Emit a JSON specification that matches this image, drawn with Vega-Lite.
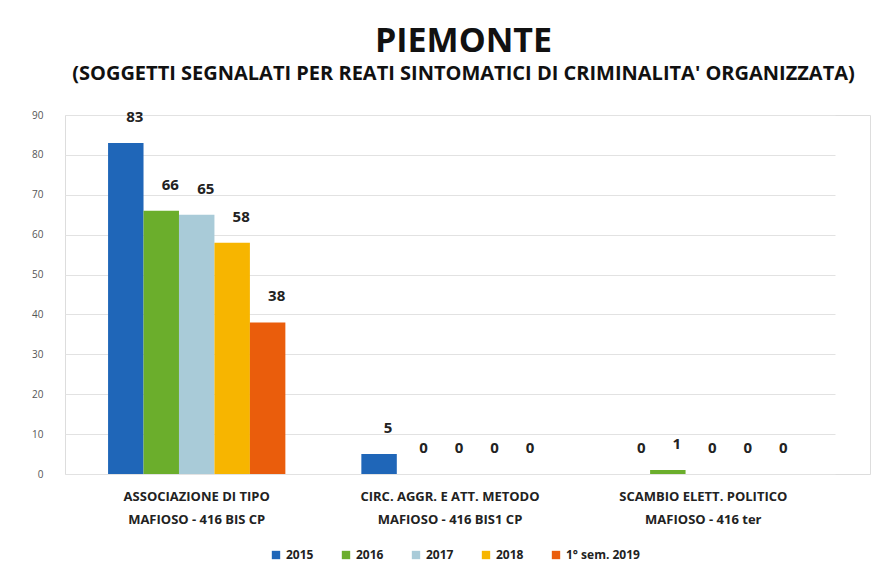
{
  "$schema": "https://vega.github.io/schema/vega-lite/v6.json",
  "autosize": {"type": "none"},
  "width": 805,
  "height": 359,
  "padding": {"left": 65, "right": 21, "top": 115, "bottom": 102},
  "background": "white",
  "title": {
    "text": "PIEMONTE",
    "subtitle": "(SOGGETTI SEGNALATI PER REATI SINTOMATICI DI CRIMINALITA' ORGANIZZATA)",
    "font": "Open Sans",
    "fontSize": 34,
    "fontWeight": "bold",
    "color": "#111111",
    "subtitleFont": "Open Sans",
    "subtitleFontSize": 20,
    "subtitleFontWeight": "bold",
    "subtitleColor": "#111111",
    "subtitlePadding": 5,
    "anchor": "middle",
    "dx": -4,
    "offset": 26
  },
  "data": {
    "values": [
      {"categoria": "ASSOCIAZIONE DI TIPO\nMAFIOSO - 416 BIS CP", "anno": "2015", "valore": 83},
      {"categoria": "ASSOCIAZIONE DI TIPO\nMAFIOSO - 416 BIS CP", "anno": "2016", "valore": 66},
      {"categoria": "ASSOCIAZIONE DI TIPO\nMAFIOSO - 416 BIS CP", "anno": "2017", "valore": 65},
      {"categoria": "ASSOCIAZIONE DI TIPO\nMAFIOSO - 416 BIS CP", "anno": "2018", "valore": 58},
      {"categoria": "ASSOCIAZIONE DI TIPO\nMAFIOSO - 416 BIS CP", "anno": "1° sem. 2019", "valore": 38},
      {"categoria": "CIRC. AGGR. E ATT. METODO\nMAFIOSO - 416 BIS1 CP", "anno": "2015", "valore": 5},
      {"categoria": "CIRC. AGGR. E ATT. METODO\nMAFIOSO - 416 BIS1 CP", "anno": "2016", "valore": 0},
      {"categoria": "CIRC. AGGR. E ATT. METODO\nMAFIOSO - 416 BIS1 CP", "anno": "2017", "valore": 0},
      {"categoria": "CIRC. AGGR. E ATT. METODO\nMAFIOSO - 416 BIS1 CP", "anno": "2018", "valore": 0},
      {"categoria": "CIRC. AGGR. E ATT. METODO\nMAFIOSO - 416 BIS1 CP", "anno": "1° sem. 2019", "valore": 0},
      {"categoria": "SCAMBIO ELETT. POLITICO\nMAFIOSO - 416 ter", "anno": "2015", "valore": 0},
      {"categoria": "SCAMBIO ELETT. POLITICO\nMAFIOSO - 416 ter", "anno": "2016", "valore": 1},
      {"categoria": "SCAMBIO ELETT. POLITICO\nMAFIOSO - 416 ter", "anno": "2017", "valore": 0},
      {"categoria": "SCAMBIO ELETT. POLITICO\nMAFIOSO - 416 ter", "anno": "2018", "valore": 0},
      {"categoria": "SCAMBIO ELETT. POLITICO\nMAFIOSO - 416 ter", "anno": "1° sem. 2019", "valore": 0}
    ]
  },
  "encoding": {
    "x": {
      "field": "categoria",
      "type": "nominal",
      "sort": null,
      "scale": {"paddingInner": 0.3, "paddingOuter": 0.17, "range": [0, 770]},
      "axis": {
        "title": null,
        "labelAngle": 0,
        "labelExpr": "split(datum.label, '\\n')",
        "labelFont": "Open Sans",
        "labelFontSize": 13,
        "labelFontWeight": "bold",
        "labelColor": "#222222",
        "labelLineHeight": 23,
        "labelPadding": 16,
        "ticks": false,
        "domain": false
      }
    },
    "xOffset": {
      "field": "anno",
      "type": "nominal",
      "sort": ["2015", "2016", "2017", "2018", "1° sem. 2019"],
      "scale": {"paddingInner": 0}
    },
    "y": {
      "field": "valore",
      "type": "quantitative",
      "scale": {"domain": [0, 90]},
      "axis": {
        "title": null,
        "values": [0, 10, 20, 30, 40, 50, 60, 70, 80, 90],
        "labelFont": "Open Sans",
        "labelFontSize": 10,
        "labelColor": "#555555",
        "labelPadding": 22,
        "ticks": false,
        "domain": false,
        "gridColor": "#e2e2e2"
      }
    }
  },
  "layer": [
    {
      "mark": {"type": "bar"},
      "encoding": {
        "color": {
          "field": "anno",
          "type": "nominal",
          "sort": ["2015", "2016", "2017", "2018", "1° sem. 2019"],
          "scale": {
            "domain": ["2015", "2016", "2017", "2018", "1° sem. 2019"],
            "range": ["#1f66b8", "#6bae2c", "#a9cbd8", "#f7b500", "#ea5d0c"]
          },
          "legend": {
            "title": null,
            "orient": "none",
            "legendX": 205,
            "legendY": 434,
            "direction": "horizontal",
            "symbolType": "square",
            "symbolSize": 70,
            "labelFont": "Open Sans",
            "labelFontSize": 12,
            "labelFontWeight": "bold",
            "labelColor": "#222222",
            "columnPadding": 26
          }
        }
      }
    },
    {
      "mark": {"type": "text", "dy": -26, "dx": 9, "font": "Open Sans", "fontSize": 15, "fontWeight": "bold", "color": "#222222"},
      "encoding": {
        "text": {"field": "valore", "type": "quantitative"}
      }
    }
  ]
}
